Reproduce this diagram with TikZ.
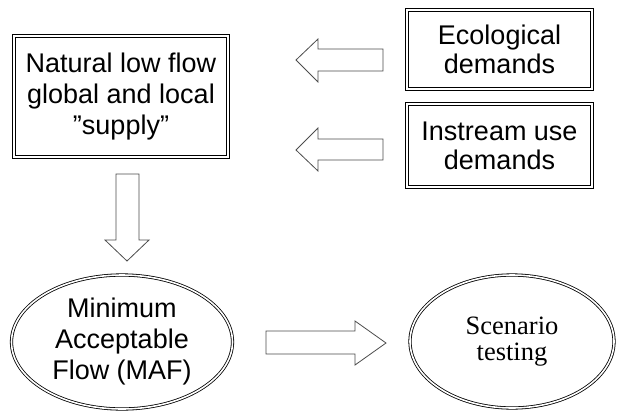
\documentclass[tikz,border=0pt]{standalone}
\usepackage{fontspec}
\setmainfont{Liberation Sans}
\newfontfamily\timesfont{Liberation Serif}
\usetikzlibrary{shapes.geometric}
\tikzset{
  dblbox/.style={draw, double, line width=1.2pt, double distance=1.8pt, inner sep=0pt, align=center,
    font=\fontsize{27}{31}\selectfont},
  dblellipse/.style={ellipse, draw, double, line width=0.8pt, double distance=1.6pt, inner sep=0pt, align=center,
    font=\fontsize{27}{31}\selectfont},
  blockarrow/.style={draw=black!70, line width=0.8pt, fill=white, line join=miter}
}
\begin{document}
\begin{tikzpicture}[x=1pt,y=-1pt]
    \useasboundingbox (0,0) rectangle (617,412);
    % boxes
    \node[dblbox, minimum width=214pt, minimum height=121pt] (nat) at (121,96.5) {Natural low flow\\global and local\\''supply''};
    \node[dblbox, minimum width=185pt, minimum height=79pt, font=\fontsize{27}{29}\selectfont] (eco) at (499.5,49.5) {Ecological\\demands};
    \node[dblbox, minimum width=185pt, minimum height=83pt, font=\fontsize{27}{29}\selectfont] (ins) at (499.5,145.5) {Instream use\\demands};
    % ellipses
    \node[dblellipse, minimum width=221pt, minimum height=134pt] (maf) at (122,342) {Minimum\\Acceptable\\Flow (MAF)};
    \node[dblellipse, minimum width=204pt, minimum height=133pt, font=\fontsize{26.5}{26}\timesfont] (scen) at (512,341.5) {Scenario\\testing};
    % block arrows
    \draw[blockarrow] (296,60) -- (318,39) -- (318,49) -- (383,49) -- (383,71) -- (318,71) -- (318,82) -- cycle;
    \draw[blockarrow] (296,150) -- (318,128) -- (318,139) -- (383,139) -- (383,160) -- (318,160) -- (318,171) -- cycle;
    \draw[blockarrow] (116,174) -- (139,174) -- (139,240) -- (149,240) -- (127,261) -- (105,240) -- (116,240) -- cycle;
    \draw[blockarrow] (266,331) -- (355,331) -- (355,321) -- (386,343) -- (355,365) -- (355,354) -- (266,354) -- cycle;
\end{tikzpicture}
\end{document}
